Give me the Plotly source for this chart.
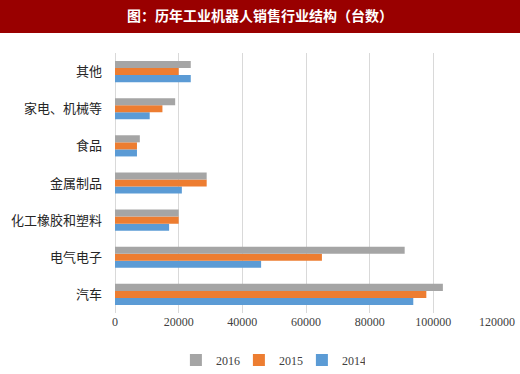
import plotly.graph_objects as go

categories = ["汽车", "电气电子", "化工橡胶和塑料", "金属制品", "食品", "家电、机械等", "其他"]
v2014 = [93700, 45900, 17000, 21000, 6900, 10900, 23800]
v2015 = [97800, 65000, 20000, 28800, 6900, 14900, 20000]
v2016 = [103000, 91000, 20000, 28800, 7800, 18900, 23800]
x_ticks = [0, 20000, 40000, 60000, 80000, 100000, 120000]
title_text = "图：历年工业机器人销售行业结构（台数）"

fig = go.Figure()
fig.add_trace(go.Bar(y=categories, x=v2014, name="2014", orientation="h",
                     marker=dict(color="#5B9BD5", line=dict(width=0))))
fig.add_trace(go.Bar(y=categories, x=v2015, name="2015", orientation="h",
                     marker=dict(color="#ED7D31", line=dict(width=0))))
fig.add_trace(go.Bar(y=categories, x=v2016, name="2016", orientation="h",
                     marker=dict(color="#A5A5A5", line=dict(width=0))))

fig.add_shape(type="rect", xref="paper", yref="paper",
              x0=-0.4, x1=1.2, y0=1.077, y1=1.3,
              fillcolor="#990000", line=dict(width=0), layer="below")

fig.update_layout(
    width=520, height=374,
    margin=dict(l=115, r=23, t=53, b=61),
    paper_bgcolor="white", plot_bgcolor="white",
    barmode="group", bargap=0.43, bargroupgap=0,
    title=dict(text="<b>" + title_text + "</b>", x=0.5, xanchor="center",
               y=1 - 16.5 / 374, yanchor="middle", yref="container",
               font=dict(family="Noto Sans CJK SC", size=14, color="white")),
    xaxis=dict(range=[0, 120000], tickvals=x_ticks,
               ticktext=[str(t) for t in x_ticks], automargin=False,
               showgrid=True, gridcolor="#D9D9D9", gridwidth=1.3,
               zeroline=True, zerolinecolor="#D9D9D9", zerolinewidth=1.3,
               showline=False, ticks="",
               tickfont=dict(family="Liberation Serif", size=12, color="#404040")),
    yaxis=dict(showgrid=False, showline=False, ticks="", ticklabelstandoff=12,
               automargin=False,
               tickfont=dict(family="Noto Sans CJK SC", size=13, color="#262626")),
    legend=dict(orientation="h", traceorder="reversed", x=0.52, xanchor="center",
                xref="container", yref="container",
                y=1 - 360 / 374, yanchor="middle",
                font=dict(family="Liberation Serif", size=12, color="#404040"),
                itemwidth=30, entrywidth=18, entrywidthmode="pixels"),
    showlegend=True,
)

fig.write_html("out.html", post_script="document.body.style.margin='0';",
               config={"displayModeBar": False})
